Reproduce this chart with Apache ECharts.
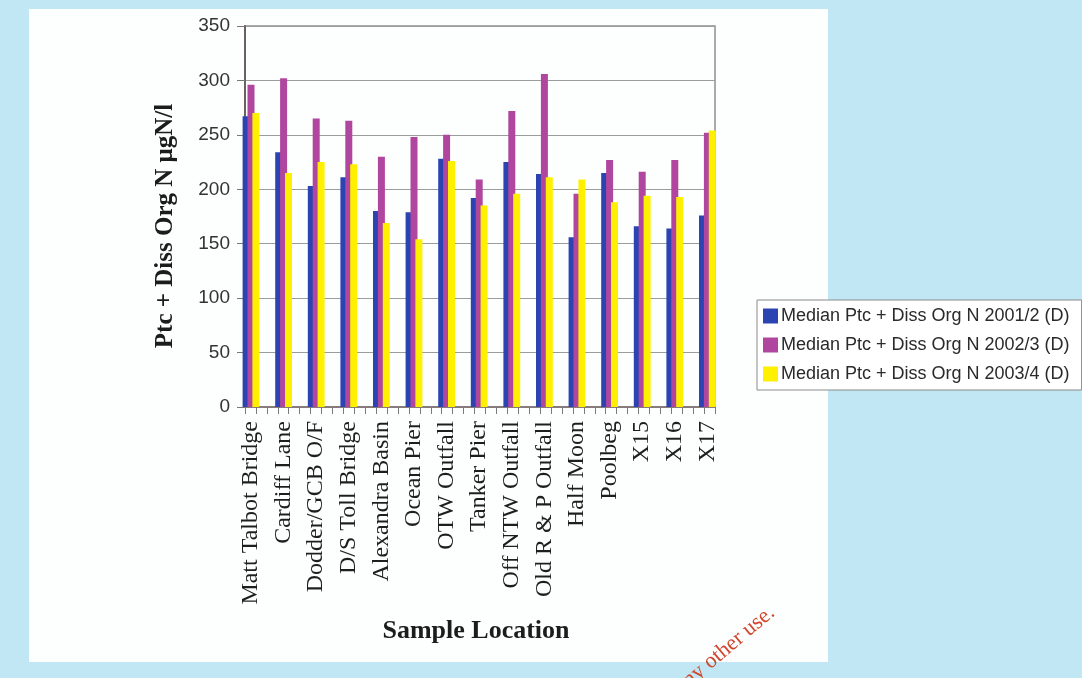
<!DOCTYPE html>
<html>
<head>
<meta charset="utf-8">
<script src="https://cdn.jsdelivr.net/npm/echarts@6/dist/echarts.min.js"></script>
<style>
  html, body { margin: 0; padding: 0; background: #c1e7f4; }
  #chart { width: 1082px; height: 678px; }
</style>
</head>
<body>
<div id="chart"></div>
<script>
// Sample locations along the estuary
const categories = [
  'Matt Talbot Bridge', 'Cardiff Lane', 'Dodder/GCB O/F', 'D/S Toll Bridge',
  'Alexandra Basin', 'Ocean Pier', 'OTW Outfall', 'Tanker Pier',
  'Off NTW Outfall', 'Old R & P Outfall', 'Half Moon', 'Poolbeg',
  'X15', 'X16', 'X17'
];

// Median particulate + dissolved organic N (µgN/l) per sampling year
const seriesNames = [
  'Median Ptc + Diss Org N 2001/2 (D)',
  'Median Ptc + Diss Org N 2002/3 (D)',
  'Median Ptc + Diss Org N 2003/4 (D)'
];
const values2001 = [267, 234, 203, 211, 180, 179, 228, 192, 225, 214, 156, 215, 166, 164, 176];
const values2002 = [296, 302, 265, 263, 230, 248, 250, 209, 272, 306, 196, 227, 216, 227, 252];
const values2003 = [270, 215, 225, 223, 169, 154, 226, 185, 196, 211, 209, 188, 194, 193, 254];

// Value axis ticks
const yMin = 0, yMax = 350, yStep = 50;

const colors = ['#2c44b2', '#b1469f', '#fff000'];

const chart = echarts.init(document.getElementById('chart'), null, { renderer: 'canvas' });

const plotTop = 26, plotHeight = 381;

const option = {
  animation: false,
  backgroundColor: '#c1e7f4',
  color: colors,
  graphic: [
    // white page panel behind the chart
    { type: 'rect', z: -10, silent: true,
      shape: { x: 29, y: 9, width: 799, height: 653 },
      style: { fill: '#fdfefe' } },
    // axis titles
    { type: 'text', x: 166, y: 226, rotation: Math.PI / 2, z: 10,
      style: { text: 'Ptc + Diss Org N μgN/l', align: 'center', verticalAlign: 'middle',
               font: 'bold 25px "Liberation Serif", serif', fill: '#1c1c1c' } },
    { type: 'text', x: 476, y: 631, z: 10,
      style: { text: 'Sample Location', align: 'center', verticalAlign: 'middle',
               font: 'bold 26px "Liberation Serif", serif', fill: '#1c1c1c' } },
    // copyright stamp
    { type: 'text', x: 772, y: 610, rotation: 0.7, z: 10,
      style: { text: 'any other use.', align: 'right', verticalAlign: 'middle',
               font: '22px "Liberation Serif", serif', fill: '#d1452d' } }
  ],
  legend: {
    orient: 'vertical',
    left: 757,
    top: 300,
    padding: [7, 12, 7, 6],
    itemGap: 11,
    itemWidth: 15,
    itemHeight: 15,
    icon: 'rect',
    backgroundColor: '#ffffff',
    borderColor: '#8a8a8a',
    borderWidth: 1,
    textStyle: { fontFamily: '"Liberation Sans", Arial, sans-serif', fontSize: 18, color: '#2a2a2a', padding: [0, 0, 0, -2] },
    data: seriesNames
  },
  grid: [
    // framed plot area with gridlines
    { left: 245, top: plotTop, width: 470, height: plotHeight, show: true,
      borderColor: '#8e8e8e', borderWidth: 1.5, backgroundColor: 'transparent' },
    // bar area, categories spaced over the plot
    { left: 234.7, top: plotTop, width: 489, height: plotHeight }
  ],
  xAxis: [
    { type: 'value', gridIndex: 0, min: 0, max: 43, interval: 1,
      axisLine: { show: true, onZero: false, lineStyle: { color: '#877b7b', width: 2 } },
      axisTick: { show: true, length: 7, lineStyle: { color: '#7a7a7a', width: 1 } },
      axisLabel: { show: false }, splitLine: { show: false } },
    { type: 'category', gridIndex: 1, data: categories, boundaryGap: true,
      axisLine: { show: false }, axisTick: { show: false },
      axisLabel: { rotate: 90, margin: 14, fontSize: 24, color: '#1e1e1e',
                   fontFamily: '"Liberation Serif", "Times New Roman", serif', interval: 0 } }
  ],
  yAxis: [
    { type: 'value', gridIndex: 0, min: yMin, max: yMax, interval: yStep,
      axisLine: { show: true, onZero: false, lineStyle: { color: '#6b6161', width: 2 } },
      axisTick: { show: true, length: 8, lineStyle: { color: '#777', width: 1 } },
      axisLabel: { margin: 15, fontSize: 19, color: '#333',
                   fontFamily: '"Liberation Sans", Arial, sans-serif' },
      splitLine: { show: true, lineStyle: { color: '#9c9c9c', width: 1 } } },
    { type: 'value', gridIndex: 1, min: yMin, max: yMax, show: false,
      splitLine: { show: false } }
  ],
  series: [
    { name: seriesNames[0], type: 'bar', xAxisIndex: 1, yAxisIndex: 1,
      data: values2001, barWidth: 7, barGap: '-30%', itemStyle: { color: colors[0] } },
    { name: seriesNames[1], type: 'bar', xAxisIndex: 1, yAxisIndex: 1,
      data: values2002, barWidth: 7, barGap: '-30%', itemStyle: { color: colors[1] } },
    { name: seriesNames[2], type: 'bar', xAxisIndex: 1, yAxisIndex: 1,
      data: values2003, barWidth: 7, barGap: '-30%', itemStyle: { color: colors[2] } }
  ]
};

chart.setOption(option);
</script>
</body>
</html>
